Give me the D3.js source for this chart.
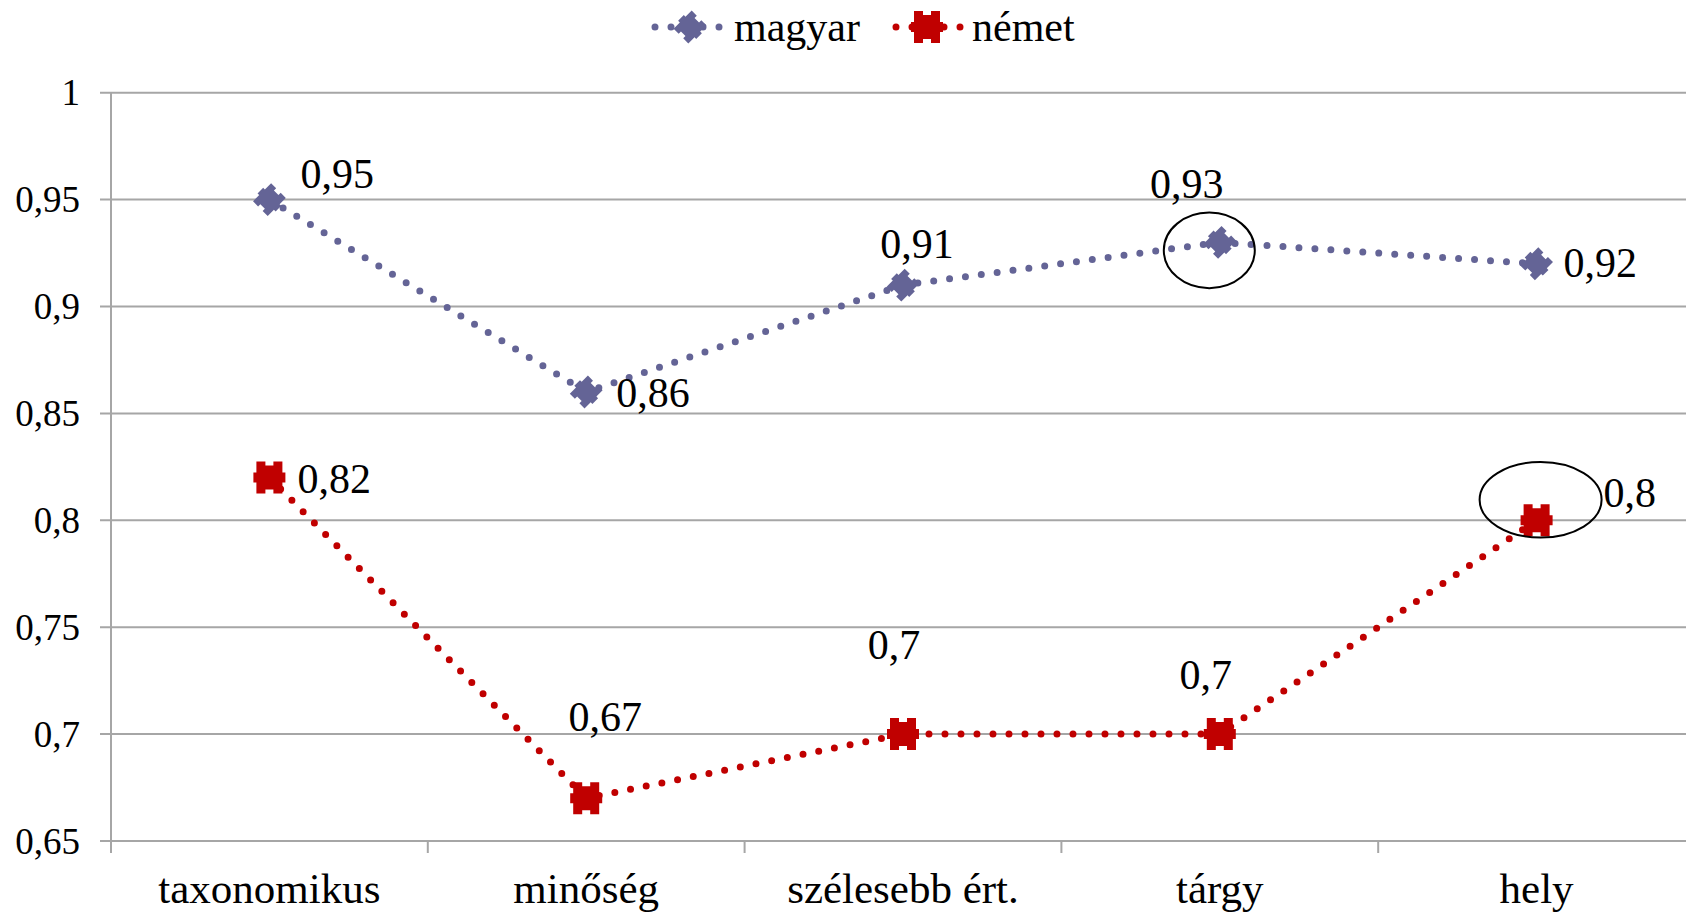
<!DOCTYPE html>
<html><head><meta charset="utf-8">
<script src="https://cdn.jsdelivr.net/npm/d3@7"></script>
<style>body{margin:0;background:#fff}svg{display:block}</style>
</head><body>
<svg id="c" width="1686" height="914"></svg>
<script>
const categories = ["taxonomikus","minőség","szélesebb ért.","tárgy","hely"];
const magyar = [0.95,0.86,0.91,0.93,0.92];
const nemet = [0.82,0.67,0.70,0.70,0.80];
const seriesNames = ["magyar","német"];
const yTicks = [0.65,0.7,0.75,0.8,0.85,0.9,0.95,1];
// label offsets (dx, dy, anchor) per point
const magyarLabelPos = [[31,-12,"start"],[30,15,"start"],[14,-27,"middle"],[-33,-44,"middle"],[27,13,"start"]];
const nemetLabelPos = [[28,15,"start"],[19,-67,"middle"],[-9,-75,"middle"],[-14,-45,"middle"],[67,-13,"start"]];

(function(){
const FONT = "Liberation Serif";
const svg = d3.select("#c");
const plotLeft = 111, plotBottom = 841, plotTop = 92.7, step = 316.8;
const x = d3.scaleBand().domain(categories).range([plotLeft, plotLeft + step*categories.length]).padding(0);
const y = d3.scaleLinear().domain([0.65,1]).range([plotBottom, plotTop]);
const cx = c => x(c) + x.bandwidth()/2;
const fmt = v => String(v).replace(".", ",");
const gridCol = "#a6a6a6";

svg.append("g").selectAll("line").data(yTicks).join("line")
  .attr("x1", plotLeft - 11).attr("x2", 1686).attr("y1", d => y(d)).attr("y2", d => y(d))
  .attr("stroke", gridCol).attr("stroke-width", 2);
svg.append("line").attr("x1", plotLeft).attr("x2", plotLeft).attr("y1", plotTop).attr("y2", plotBottom + 12)
  .attr("stroke", gridCol).attr("stroke-width", 2);
svg.append("g").selectAll("line").data(categories.slice(1)).join("line")
  .attr("x1", d => x(d)).attr("x2", d => x(d)).attr("y1", plotBottom).attr("y2", plotBottom + 12)
  .attr("stroke", gridCol).attr("stroke-width", 2);
svg.append("g").selectAll("text").data(yTicks).join("text")
  .attr("x", 80).attr("y", d => y(d) + 12.5).attr("text-anchor", "end")
  .style("font-family", FONT).style("font-size", "37px").text(d => fmt(d));
svg.append("g").selectAll("text").data(categories).join("text")
  .attr("x", d => cx(d)).attr("y", 903).attr("text-anchor", "middle")
  .style("font-family", FONT).style("font-size", "43px").text(d => d);

const blueCol = "#646496", redCol = "#c00000";
const redPts = [[-13,-16],[-4,-16],[-4,-12],[4,-12],[4,-16],[13,-16],[13,-5],[16,-5],[16,5],[13,5],[13,16],[4,16],[4,12],[-4,12],[-4,16],[-13,16],[-13,5],[-16,5],[-16,-5],[-13,-5]];
const redPath = "M" + redPts.map(p => p.join(",")).join("L") + "Z";
const a = Math.PI/4, s = 0.8;
const bluePath = "M" + redPts.map(([px,py]) => [ (px*Math.cos(a) - py*Math.sin(a))*s, (px*Math.sin(a) + py*Math.cos(a))*s ].map(v => v.toFixed(2)).join(",")).join("L") + "Z";

const series = [
  {name: seriesNames[0], values: magyar, color: blueCol, shape: bluePath, labels: magyarLabelPos},
  {name: seriesNames[1], values: nemet, color: redCol, shape: redPath, labels: nemetLabelPos}
];

series.forEach(sr => {
  const line = d3.line().x((d,i) => cx(categories[i])).y(d => y(d)).curve(d3.curveLinear);
  svg.append("path").attr("d", line(sr.values)).attr("fill", "none")
    .attr("stroke", sr.color).attr("stroke-width", 7)
    .attr("stroke-dasharray", "0 16").attr("stroke-linecap", "round");
});
series.forEach(sr => {
  svg.append("g").selectAll("path").data(sr.values).join("path")
    .attr("transform", (d,i) => `translate(${cx(categories[i])},${y(d)})`)
    .attr("d", sr.shape).attr("fill", sr.color);
  svg.append("g").selectAll("text").data(sr.values).join("text")
    .attr("x", (d,i) => cx(categories[i]) + sr.labels[i][0])
    .attr("y", (d,i) => y(d) + sr.labels[i][1])
    .attr("text-anchor", (d,i) => sr.labels[i][2])
    .style("font-family", FONT).style("font-size", "42px").text(d => fmt(d));
});

svg.append("ellipse").attr("cx", cx(categories[3]) - 10.5).attr("cy", y(magyar[3]) + 8)
  .attr("rx", 45.5).attr("ry", 37.8).attr("fill", "none").attr("stroke", "#000").attr("stroke-width", 2);
svg.append("ellipse").attr("cx", cx(categories[4]) + 4).attr("cy", y(nemet[4]) - 20.5)
  .attr("rx", 61).attr("ry", 37.8).attr("fill", "none").attr("stroke", "#000").attr("stroke-width", 2);

const leg = [{x0: 655, x1: 725, mx: 690, tx: 734}, {x0: 896, x1: 962, mx: 927, tx: 972}];
series.forEach((sr, i) => {
  const L = leg[i], ly = 27;
  svg.append("line").attr("x1", L.x0).attr("x2", L.x1).attr("y1", ly).attr("y2", ly)
    .attr("stroke", sr.color).attr("stroke-width", 7).attr("stroke-dasharray", "0 16").attr("stroke-linecap", "round");
  svg.append("path").attr("transform", `translate(${L.mx},${ly})`).attr("d", sr.shape).attr("fill", sr.color);
  svg.append("text").attr("x", L.tx).attr("y", 41)
    .style("font-family", FONT).style("font-size", "42px").text(sr.name);
});
})();
</script>
</body></html>
